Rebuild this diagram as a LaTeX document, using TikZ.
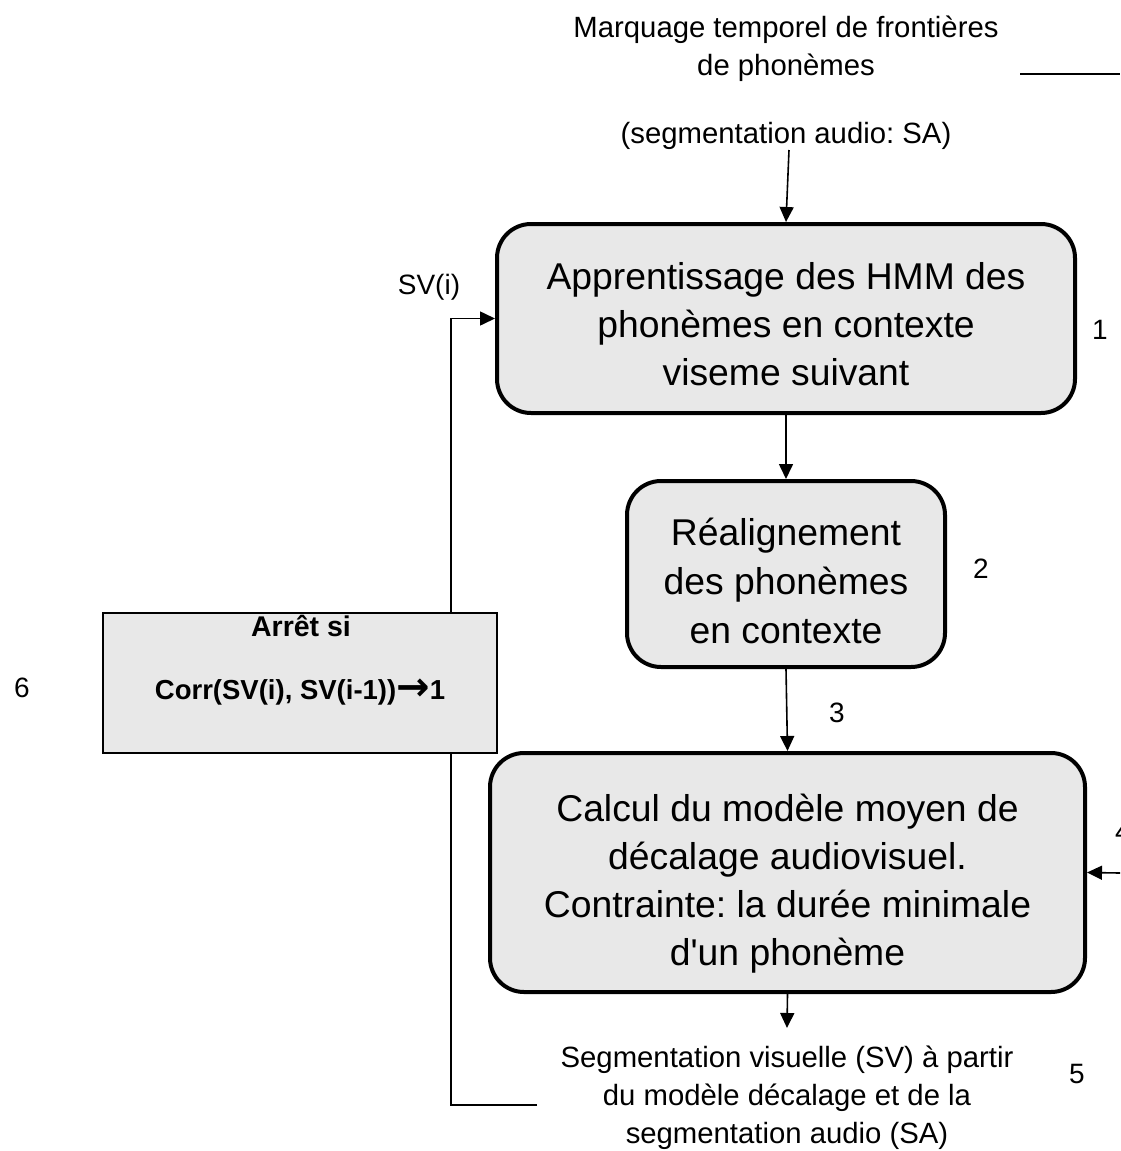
\documentclass[tikz,border=0pt]{standalone}
\usepackage{fontspec}
\setmainfont{Liberation Sans}
\newfontfamily\arrowfont{DejaVu Sans}
\usetikzlibrary{arrows.meta}
\definecolor{boxgray}{HTML}{E8E8E8}
\frenchspacing
\begin{document}
\begin{tikzpicture}[x=1pt,y=-1pt,
  conn/.style={line width=1.6pt,-{Triangle[length=15pt,width=14pt]}},
  plain/.style={line width=1.6pt},
  rbox/.style={draw,line width=4pt,fill=boxgray,rounded corners=34pt,inner sep=0pt},
  bigtxt/.style={font=\fontsize{37.3}{48}\selectfont,align=center},
  midtxt/.style={font=\fontsize{29.3}{38}\selectfont,align=center},
  numtxt/.style={font=\fontsize{28}{30}\selectfont},
  boldtxt/.style={font=\fontsize{27.5}{30}\selectfont\bfseries}
]
\useasboundingbox (0,0) rectangle (1120,1151);
\clip (0,0) rectangle (1120,1151);

% top text
\node[midtxt] (top1) at (786,49) {Marquage temporel de frontières\\de phonèmes};
\node[midtxt] (top2) at (786,136) {(segmentation audio: SA)};
\coordinate (topstart) at (789,150);

% top right line
\coordinate (trl) at (1020,74);
\coordinate (trr) at (1120,74);
\draw[line width=2pt] (trl) -- (trr);

% boxes
\node[rbox,minimum width=578pt,minimum height=189pt] (b1) at (786,318.5) {};
\node[bigtxt] (b1t) at (786,324.5) {Apprentissage des HMM des\\phonèmes en contexte\\viseme suivant};
\node[rbox,minimum width=318pt,minimum height=186pt] (b2) at (786,574) {};
\node[bigtxt,font=\fontsize{37.3}{49}\selectfont] (b2t) at (786,580.5) {Réalignement\\des phonèmes\\en contexte};
\node[rbox,minimum width=595pt,minimum height=239pt] (b3) at (787.5,872.5) {};
\node[bigtxt] (b3t) at (787.5,884) {Calcul du modèle moyen de\\décalage audiovisuel.\\Contrainte: la durée minimale\\d\textquotesingle un phonème};
\node[draw,line width=1.5pt,fill=boxgray,minimum width=394pt,minimum height=140pt,inner sep=0pt] (b6) at (300,683) {};
\node[boldtxt,font=\fontsize{28.5}{30}\selectfont\bfseries] (b6a) at (301,626) {Arrêt si};
\node[boldtxt] (b6b) at (300,692) {Corr(SV(i), SV(i-1)){\arrowfont\bfseries\fontsize{40}{40}\selectfont\raisebox{-1pt}{→}}1};

% bottom text
\node[midtxt] (bot) at (787,1098) {Segmentation visuelle (SV) à partir\\du modèle décalage et de la\\segmentation audio (SA)};

% labels
\node[numtxt] (n1) at (1100,330) {1};
\node[numtxt] (n2) at (981,569) {2};
\node[numtxt] (n3) at (837,713) {3};
\node[numtxt] (n4) at (1123,832) {4};
\node[numtxt] (n5) at (1077,1074) {5};
\node[numtxt] (n6) at (22,688) {6};
\node[font=\fontsize{28}{30}\selectfont] (svi) at (429,287) {SV(i)};

% connectors
\draw[conn] (topstart) -- (b1.north);
\draw[conn] (b1.south) -- (b2.north);
\draw[conn] (b2.south) -- (b3.north);
\coordinate (b3out) at (787,1028);
\draw[conn] (b3.south) -- (b3out);
\coordinate (rin) at (1120,873);
\draw[conn] (rin) -- (b3.east);
\coordinate (fbtop) at (451,613);
\coordinate (fbbot) at (451,753);
\coordinate (fbcorner) at (451,1105);
\coordinate (fbend) at (537,1105);
\draw[conn] (fbtop) |- (b1.west);
\draw[plain] (fbend) -- (fbcorner) -- (fbbot);
\end{tikzpicture}
\end{document}
